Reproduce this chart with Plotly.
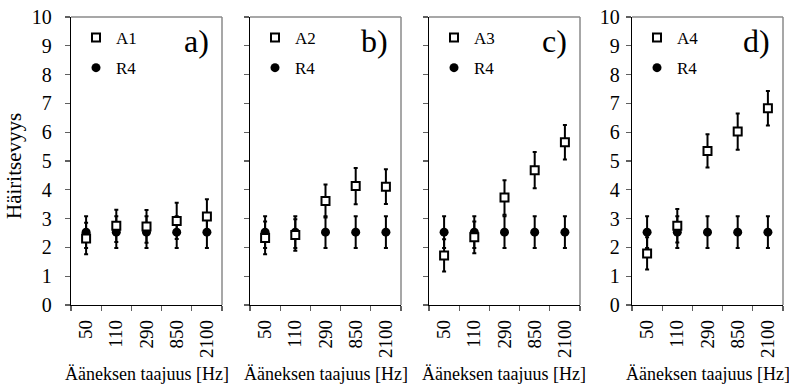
import plotly.graph_objects as go

# ---------------- data ----------------
freqs = ["50", "110", "290", "850", "2100"]
panel_labels = ["a)", "b)", "c)", "d)"]
a_names = ["A1", "A2", "A3", "A4"]

A1 = [2.31, 2.75, 2.73, 2.92, 3.07]
A1_err = [0.55, 0.56, 0.57, 0.63, 0.60]
A2 = [2.33, 2.43, 3.61, 4.13, 4.11]
A2_err = [0.57, 0.55, 0.57, 0.63, 0.60]
A3 = [1.72, 2.35, 3.73, 4.68, 5.65]
A3_err = [0.56, 0.55, 0.60, 0.63, 0.60]
A4 = [1.79, 2.75, 5.35, 6.02, 6.83]
A4_err = [0.56, 0.58, 0.58, 0.63, 0.60]

R4 = [2.53, 2.53, 2.53, 2.53, 2.53]
R4_err = [0.55, 0.55, 0.55, 0.55, 0.55]

y_title = "Häiritsevyys"
x_title = "Ääneksen taajuus [Hz]"

a_series = [A1, A2, A3, A4]
a_errors = [A1_err, A2_err, A3_err, A4_err]

# ---------------- layout geometry ----------------
W, H = 789, 388
ML, MR, MT, MB = 71, 6, 17, 83
PW = W - ML - MR
PH = H - MT - MB
Y0 = H - MB  # pixel row of y = 0
panel_px = [(71, 222), (250, 401), (429, 580), (632, 783)]
domains = [[(a - ML) / PW, min(1.0, (b - ML) / PW)] for a, b in panel_px]

FONT = "Liberation Serif, Times New Roman, serif"
AXC = "black"
TICKC = "#606060"

fig = go.Figure()
layout = dict(
    width=W, height=H, autosize=False,
    margin=dict(l=ML, r=MR, t=MT, b=MB, pad=0),
    paper_bgcolor="white", plot_bgcolor="white",
    font=dict(family=FONT, color="black", size=18),
    annotations=[], shapes=[],
)

for i in range(4):
    sx = "" if i == 0 else str(i + 1)
    xa, ya = "x" + sx, "y" + sx
    leg = "legend" + sx
    # reference series (drawn first, underneath)
    fig.add_trace(go.Scatter(
        x=freqs, y=R4, mode="markers", name="R4",
        error_y=dict(type="data", array=R4_err, color="black", thickness=2, width=2),
        marker=dict(symbol="circle", size=9, color="black"),
        xaxis=xa, yaxis=ya, legend=leg, legendrank=2, legendgroup="r%d" % i,
    ))
    fig.add_trace(go.Scatter(
        x=freqs, y=a_series[i], mode="markers", name=a_names[i],
        error_y=dict(type="data", array=a_errors[i], color="black", thickness=2, width=2),
        marker=dict(symbol="square", size=8, color="white",
                    line=dict(color="black", width=2)),
        xaxis=xa, yaxis=ya, legend=leg, legendrank=1, legendgroup="a%d" % i,
    ))

    layout["xaxis" + sx] = dict(
        domain=domains[i], anchor=ya, type="category",
        categoryorder="array", categoryarray=freqs,
        range=[-0.5, 4.5], tickson="boundaries",
        ticks="outside", ticklen=5, tickwidth=1.3, tickcolor=TICKC,
        showline=True, linecolor=AXC, linewidth=1.3,
        tickangle=-90, tickfont=dict(size=19, family=FONT),
        ticklabelstandoff=6, ticklabeloverflow="allow",
        showgrid=False, zeroline=False, fixedrange=True,
    )
    layout["yaxis" + sx] = dict(
        domain=[0, 1], anchor=xa, range=[0, 10],
        tickmode="linear", tick0=0, dtick=1,
        ticks="outside", ticklen=5, tickwidth=1.3, tickcolor=TICKC,
        showline=True, linecolor=AXC, linewidth=1.3,
        showticklabels=(i in (0, 3)),
        tickfont=dict(size=20, family=FONT),
        ticklabelstandoff=(9 if i == 0 else 2), ticklabeloverflow="allow",
        showgrid=False, zeroline=False, fixedrange=True,
    )
    # overlay axes to get ticks crossing the axis lines
    ox = "xaxis" + str(i + 5)
    oy = "yaxis" + str(i + 5)
    layout[ox] = dict(
        overlaying=xa, anchor=ya, side="bottom", range=[-0.5, 4.5],
        tickmode="linear", tick0=-0.5, dtick=1,
        ticks="inside", ticklen=5, tickwidth=1.3, tickcolor=TICKC,
        showticklabels=False, showline=False, showgrid=False, zeroline=False,
    )
    layout[oy] = dict(
        overlaying=ya, anchor=xa, side="left", range=[0, 10],
        tickmode="linear", tick0=0, dtick=1,
        ticks="inside", ticklen=5, tickwidth=1.3, tickcolor=TICKC,
        showticklabels=False, showline=False, showgrid=False, zeroline=False,
    )

    # gray frame (top + right)
    layout["shapes"].append(dict(type="line", xref=xa + " domain", yref=ya + " domain",
                                 x0=0, x1=1, y0=1, y1=1, line=dict(color="#8a8a8a", width=1.5)))
    layout["shapes"].append(dict(type="line", xref=xa + " domain", yref=ya + " domain",
                                 x0=1, x1=1, y0=0, y1=1, line=dict(color="#8a8a8a", width=1.5)))

    # legend inside panel
    layout[leg] = dict(
        x=(panel_px[i][0] + 5 - ML) / PW, y=(Y0 - 20) / PH,
        xanchor="left", yanchor="top", xref="paper", yref="paper",
        bgcolor="rgba(0,0,0,0)", borderwidth=0,
        font=dict(size=17, family=FONT), tracegroupgap=5,
        itemclick=False, itemdoubleclick=False,
    )

    # panel label
    layout["annotations"].append(dict(
        text=panel_labels[i], xref=xa + " domain", yref=ya + " domain",
        x=0.93, y=0.915, xanchor="right", yanchor="middle", showarrow=False,
        font=dict(size=32, family=FONT),
    ))
    # x title
    layout["annotations"].append(dict(
        text=x_title, xref=xa + " domain", yref="paper",
        x=0.5, y=(Y0 - 374) / PH, xanchor="center", yanchor="middle", showarrow=False,
        font=dict(size=18, family=FONT),
    ))

# y title
layout["annotations"].append(dict(
    text=y_title, xref="paper", yref="paper", x=(14 - ML) / PW, y=(Y0 - 166) / PH,
    xanchor="center", yanchor="middle", textangle=-90, showarrow=False,
    font=dict(size=21, family=FONT),
))

fig.update_layout(**layout)
fig.write_html("out.html",
               config={"displayModeBar": False, "staticPlot": True},
               post_script="document.body.style.margin='0';document.body.style.overflow='hidden';")
